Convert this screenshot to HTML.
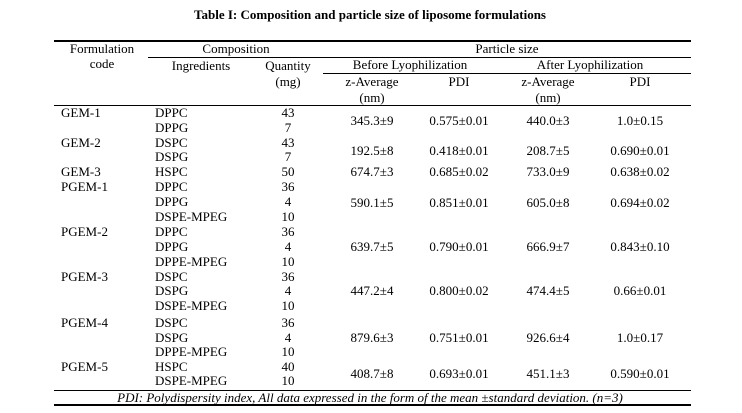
<!DOCTYPE html>
<html><head><meta charset="utf-8"><style>
body{margin:0;background:#fff;width:742px;height:413px;overflow:hidden;position:relative;font-family:"Liberation Serif",serif;font-size:13px;color:#000}
.t{position:absolute;line-height:14px;white-space:nowrap}
.c{transform:translateX(-50%)}
.l{position:absolute;background:#000}
</style></head><body>
<div class="t c" style="left:370px;top:8px;font-weight:bold">Table I: Composition and particle size of liposome formulations</div>
<div class="l" style="left:54px;top:40px;width:637px;height:2px"></div>
<div class="l" style="left:148px;top:57px;width:543px;height:1px"></div>
<div class="l" style="left:323px;top:73px;width:368px;height:1px"></div>
<div class="l" style="left:54px;top:105px;width:637px;height:1px"></div>
<div class="l" style="left:54px;top:390px;width:637px;height:1px"></div>
<div class="l" style="left:54px;top:404px;width:637px;height:2px"></div>

<div class="t c" style="left:102px;top:42px">Formulation</div>
<div class="t c" style="left:102px;top:57px">code</div>
<div class="t c" style="left:236px;top:42px">Composition</div>
<div class="t c" style="left:507px;top:42px">Particle size</div>
<div class="t c" style="left:201px;top:59px">Ingredients</div>
<div class="t c" style="left:288px;top:59px">Quantity</div>
<div class="t c" style="left:288px;top:75px">(mg)</div>
<div class="t c" style="left:410px;top:58px">Before Lyophilization</div>
<div class="t c" style="left:590px;top:58px">After Lyophilization</div>
<div class="t c" style="left:372px;top:75px">z-Average</div>
<div class="t c" style="left:372px;top:91px">(nm)</div>
<div class="t c" style="left:459px;top:75px">PDI</div>
<div class="t c" style="left:548px;top:75px">z-Average</div>
<div class="t c" style="left:548px;top:91px">(nm)</div>
<div class="t c" style="left:640px;top:75px">PDI</div>

<div class="t" style="left:61px;top:106px">GEM-1</div>
<div class="t" style="left:61px;top:136px">GEM-2</div>
<div class="t" style="left:61px;top:165px">GEM-3</div>
<div class="t" style="left:61px;top:180px">PGEM-1</div>
<div class="t" style="left:61px;top:225px">PGEM-2</div>
<div class="t" style="left:61px;top:270px">PGEM-3</div>
<div class="t" style="left:61px;top:316px">PGEM-4</div>
<div class="t" style="left:61px;top:360px">PGEM-5</div>

<div class="t" style="left:155px;top:106px">DPPC</div><div class="t c" style="left:288px;top:106px">43</div>
<div class="t" style="left:155px;top:121px">DPPG</div><div class="t c" style="left:288px;top:121px">7</div>
<div class="t" style="left:155px;top:136px">DSPC</div><div class="t c" style="left:288px;top:136px">43</div>
<div class="t" style="left:155px;top:150px">DSPG</div><div class="t c" style="left:288px;top:150px">7</div>
<div class="t" style="left:155px;top:165px">HSPC</div><div class="t c" style="left:288px;top:165px">50</div>
<div class="t" style="left:155px;top:180px">DPPC</div><div class="t c" style="left:288px;top:180px">36</div>
<div class="t" style="left:155px;top:195px">DPPG</div><div class="t c" style="left:288px;top:195px">4</div>
<div class="t" style="left:155px;top:210px">DSPE-MPEG</div><div class="t c" style="left:288px;top:210px">10</div>
<div class="t" style="left:155px;top:225px">DPPC</div><div class="t c" style="left:288px;top:225px">36</div>
<div class="t" style="left:155px;top:240px">DPPG</div><div class="t c" style="left:288px;top:240px">4</div>
<div class="t" style="left:155px;top:255px">DPPE-MPEG</div><div class="t c" style="left:288px;top:255px">10</div>
<div class="t" style="left:155px;top:270px">DSPC</div><div class="t c" style="left:288px;top:270px">36</div>
<div class="t" style="left:155px;top:284px">DSPG</div><div class="t c" style="left:288px;top:284px">4</div>
<div class="t" style="left:155px;top:299px">DSPE-MPEG</div><div class="t c" style="left:288px;top:299px">10</div>
<div class="t" style="left:155px;top:316px">DSPC</div><div class="t c" style="left:288px;top:316px">36</div>
<div class="t" style="left:155px;top:331px">DSPG</div><div class="t c" style="left:288px;top:331px">4</div>
<div class="t" style="left:155px;top:345px">DPPE-MPEG</div><div class="t c" style="left:288px;top:345px">10</div>
<div class="t" style="left:155px;top:360px">HSPC</div><div class="t c" style="left:288px;top:360px">40</div>
<div class="t" style="left:155px;top:374px">DSPE-MPEG</div><div class="t c" style="left:288px;top:374px">10</div>

<div class="t c" style="left:372px;top:114px">345.3±9</div><div class="t c" style="left:459px;top:114px">0.575±0.01</div><div class="t c" style="left:548px;top:114px">440.0±3</div><div class="t c" style="left:640px;top:114px">1.0±0.15</div>
<div class="t c" style="left:372px;top:144px">192.5±8</div><div class="t c" style="left:459px;top:144px">0.418±0.01</div><div class="t c" style="left:548px;top:144px">208.7±5</div><div class="t c" style="left:640px;top:144px">0.690±0.01</div>
<div class="t c" style="left:372px;top:165px">674.7±3</div><div class="t c" style="left:459px;top:165px">0.685±0.02</div><div class="t c" style="left:548px;top:165px">733.0±9</div><div class="t c" style="left:640px;top:165px">0.638±0.02</div>
<div class="t c" style="left:372px;top:196px">590.1±5</div><div class="t c" style="left:459px;top:196px">0.851±0.01</div><div class="t c" style="left:548px;top:196px">605.0±8</div><div class="t c" style="left:640px;top:196px">0.694±0.02</div>
<div class="t c" style="left:372px;top:240px">639.7±5</div><div class="t c" style="left:459px;top:240px">0.790±0.01</div><div class="t c" style="left:548px;top:240px">666.9±7</div><div class="t c" style="left:640px;top:240px">0.843±0.10</div>
<div class="t c" style="left:372px;top:284px">447.2±4</div><div class="t c" style="left:459px;top:284px">0.800±0.02</div><div class="t c" style="left:548px;top:284px">474.4±5</div><div class="t c" style="left:640px;top:284px">0.66±0.01</div>
<div class="t c" style="left:372px;top:331px">879.6±3</div><div class="t c" style="left:459px;top:331px">0.751±0.01</div><div class="t c" style="left:548px;top:331px">926.6±4</div><div class="t c" style="left:640px;top:331px">1.0±0.17</div>
<div class="t c" style="left:372px;top:367px">408.7±8</div><div class="t c" style="left:459px;top:367px">0.693±0.01</div><div class="t c" style="left:548px;top:367px">451.1±3</div><div class="t c" style="left:640px;top:367px">0.590±0.01</div>

<div class="t c" style="left:370px;top:391px;font-style:italic">PDI: Polydispersity index, All data expressed in the form of the mean ±standard deviation. (n=3)</div>
</body></html>
